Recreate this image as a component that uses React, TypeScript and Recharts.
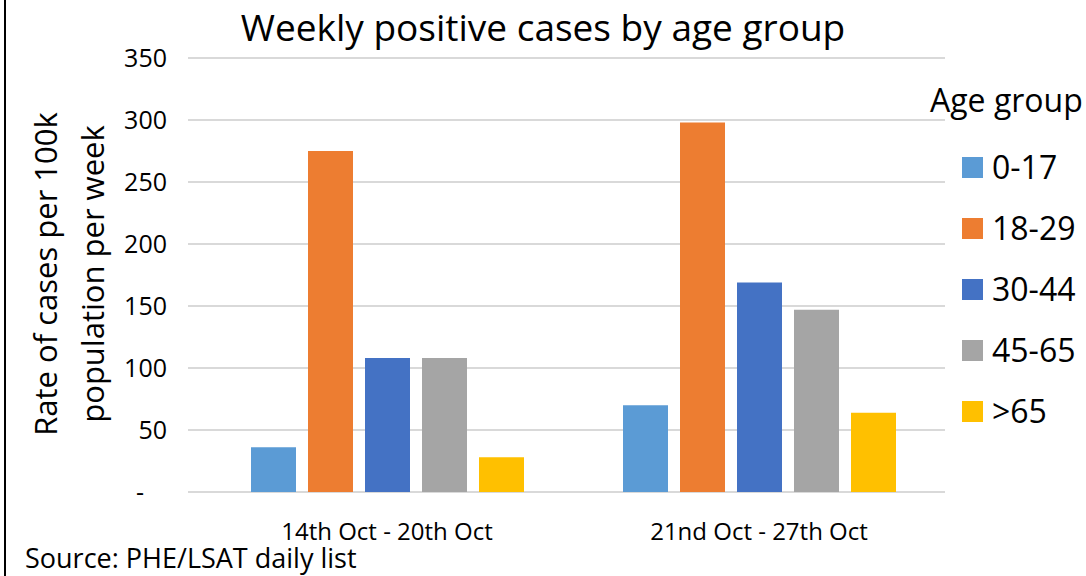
import React from 'react';
import { BarChart, Bar, XAxis, YAxis, CartesianGrid } from 'recharts';

const weeks = ['14th Oct - 20th Oct', '21nd Oct - 27th Oct'];
const ageGroups = ['0-17', '18-29', '30-44', '45-65', '>65'];
const colors = ['#5B9BD5', '#ED7D31', '#4472C4', '#A5A5A5', '#FFC000'];
const age0to17 = [36, 70];
const age18to29 = [275, 298];
const age30to44 = [108, 169];
const age45to65 = [108, 147];
const age65plus = [28, 64];
const yTicks = [0, 50, 100, 150, 200, 250, 300, 350];

const series = [age0to17, age18to29, age30to44, age45to65, age65plus];

const data = weeks.map((week, i) => {
  const row: Record<string, string | number> = { week };
  ageGroups.forEach((g, j) => {
    row[g] = series[j][i];
  });
  return row;
});

const font = '"Open Sans", "Liberation Sans", sans-serif';

const YTick = (props: any) => {
  const { y, payload } = props;
  if (payload.value === 0) {
    return (
      <text x={140} y={y + 9} textAnchor="middle" fontSize={25} fontFamily={font} fill="#000">
        -
      </text>
    );
  }
  return (
    <text x={167} y={y + 9} textAnchor="end" fontSize={25} fontFamily={font} fill="#000">
      {payload.value}
    </text>
  );
};

const XTick = (props: any) => {
  const { x, payload } = props;
  return (
    <text x={x} y={540} textAnchor="middle" fontSize={24} fontFamily={font} fill="#000">
      {payload.value}
    </text>
  );
};

const YLabel = () => (
  <g>
    <text
      x={45}
      y={274}
      transform="rotate(-90 45 274)"
      textAnchor="middle"
      dominantBaseline="central"
      fontSize={31}
      fontFamily={font}
      fill="#000"
    >
      Rate of cases per 100k
    </text>
    <text
      x={92}
      y={274}
      transform="rotate(-90 92 274)"
      textAnchor="middle"
      dominantBaseline="central"
      fontSize={31}
      fontFamily={font}
      fill="#000"
    >
      population per week
    </text>
  </g>
);

const AgeLegend = () => (
  <div style={{ position: 'absolute', left: 930, top: 78, fontFamily: font, color: '#000' }}>
    <div style={{ fontSize: 32, lineHeight: '44px', whiteSpace: 'nowrap' }}>Age group</div>
    {ageGroups.map((g, i) => (
      <div
        key={g}
        style={{
          position: 'absolute',
          left: 32,
          top: 89 + i * 61 - 20,
          display: 'flex',
          alignItems: 'center',
          height: 40,
          whiteSpace: 'nowrap',
        }}
      >
        <span style={{ width: 21, height: 21, background: colors[i], display: 'inline-block', marginRight: 9 }} />
        <span style={{ fontSize: 32, lineHeight: '40px' }}>{g}</span>
      </div>
    ))}
  </div>
);

export default function App() {
  return (
    <div style={{ position: 'absolute', left: 0, top: 0, width: 1086, height: 576, background: '#fff', overflow: 'hidden' }}>
      <div style={{ position: 'absolute', left: 4, top: 0, width: 2, height: 576, background: '#000' }} />
      <div
        style={{
          position: 'absolute',
          left: 0,
          width: 1086,
          top: 2,
          textAlign: 'center',
          fontFamily: font,
          fontSize: 37,
          lineHeight: '50px',
          color: '#000',
        }}
      >
        Weekly positive cases by age group
      </div>
      <BarChart
        width={1086}
        height={576}
        data={data}
        margin={{ top: 58, right: 141, bottom: 54, left: 128 }}
        barSize={45}
        barGap={12}
      >
        <CartesianGrid vertical={false} stroke="#d9d9d9" strokeWidth={2} />
        <XAxis
          dataKey="week"
          height={30}
          axisLine={false}
          tickLine={false}
          tick={<XTick />}
          padding={{ left: 13, right: 0 }}
        />
        <YAxis
          width={60}
          domain={[0, 350]}
          ticks={yTicks}
          axisLine={false}
          tickLine={false}
          tick={<YTick />}
          label={<YLabel />}
        />
        {ageGroups.map((g, i) => (
          <Bar key={g} dataKey={g} fill={colors[i]} isAnimationActive={false} />
        ))}
      </BarChart>
      <AgeLegend />
      <div
        style={{
          position: 'absolute',
          left: 25,
          top: 539,
          fontFamily: font,
          fontSize: 27,
          lineHeight: '38px',
          color: '#000',
          whiteSpace: 'nowrap',
        }}
      >
        Source: PHE/LSAT daily list
      </div>
    </div>
  );
}
